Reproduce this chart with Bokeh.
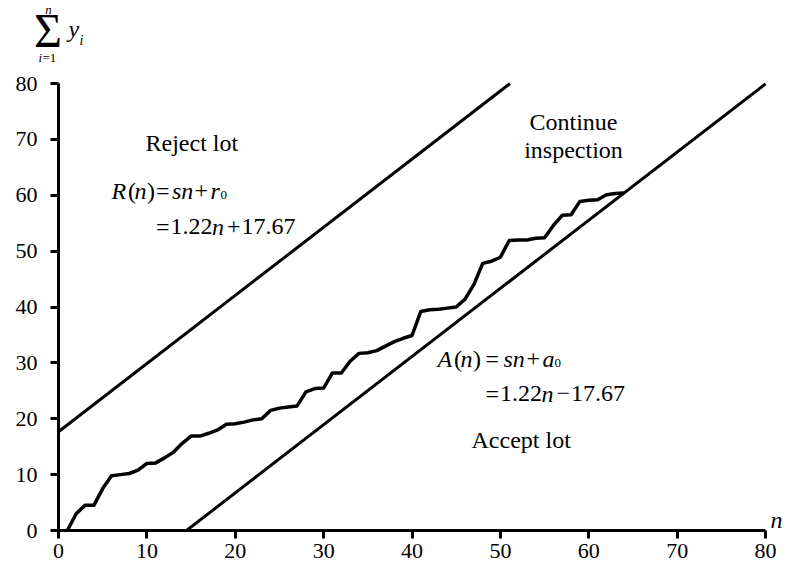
from bokeh.plotting import figure
from bokeh.models import Label, FixedTicker, Range1d
from bokeh.embed import file_html
from bokeh.resources import INLINE

# ---- data ----
n_values = list(range(1, 65))
cum_defects = [0, 3, 4.5, 4.5, 7.5, 9.8, 10, 10.2, 10.8, 12, 12.1, 13, 14, 15.6, 16.9,
               16.9, 17.4, 18, 19, 19.1, 19.4, 19.8, 20, 21.5, 21.9, 22.1, 22.3, 24.8,
               25.4, 25.5, 28.2, 28.2, 30.3, 31.7, 31.8, 32.2, 33, 33.8, 34.4, 34.9,
               39.2, 39.5, 39.6, 39.8, 40, 41.4, 44, 47.8, 48.2, 48.9, 51.9, 52, 52,
               52.3, 52.4, 54.6, 56.4, 56.5, 58.9, 59.1, 59.2, 60.1, 60.3, 60.4]
slope_s = 1.22
r0 = 17.67
a0 = -17.67
axis_min, axis_max = 0, 80
x_ticks = [0, 10, 20, 30, 40, 50, 60, 70, 80]
y_ticks = [0, 10, 20, 30, 40, 50, 60, 70, 80]

FONT = "Liberation Serif"

# page-pixel geometry of the plotting area (0..80 on both axes)
W, H = 789, 569
X0, XW = 58.0, 707.0 / 80.0
Y0, YH = 530.0, 447.0 / 80.0

p = figure(width=W, height=H,
           x_range=Range1d(-X0 / XW, (W - X0) / XW),
           y_range=Range1d((Y0 - H) / YH, Y0 / YH),
           output_backend="svg", toolbar_location=None, min_border=0)
p.outline_line_color = None
p.grid.visible = False
p.background_fill_color = "white"

for ax in (p.xaxis[0], p.yaxis[0]):
    ax.fixed_location = 0
    ax.bounds = (axis_min, axis_max)
    ax.axis_line_width = 3
    ax.axis_line_color = "black"
    ax.major_tick_line_width = 3
    ax.major_tick_line_color = "black"
    ax.major_tick_out = 8
    ax.major_tick_in = 0
    ax.minor_tick_out = 0
    ax.minor_tick_in = 0
    ax.major_label_text_font = FONT
    ax.major_label_text_font_size = "22px"
    ax.major_label_text_color = "black"
p.xaxis.ticker = FixedTicker(ticks=x_ticks)
p.yaxis.ticker = FixedTicker(ticks=y_ticks)
p.xaxis.major_label_standoff = 5
p.yaxis.major_label_standoff = 13

# boundary lines R(n) = s n + r0 and A(n) = s n + a0, within the 0..80 box
r_x = [axis_min, (axis_max - r0) / slope_s]
a_x = [-a0 / slope_s, axis_max]
p.line(r_x, [slope_s * v + r0 for v in r_x], line_color="black", line_width=3)
p.line(a_x, [slope_s * v + a0 for v in a_x], line_color="black", line_width=3)

# cumulative line
p.line(n_values, cum_defects, line_color="black", line_width=3.5, line_join="round")


def lab(text, px, py, size=24, italic=False, align="left"):
    p.add_layout(Label(x=(px - X0) / XW, y=(Y0 - py) / YH, text=text,
                       text_font=FONT, text_font_size=f"{size}px",
                       text_font_style="italic" if italic else "normal",
                       text_align=align, text_baseline="alphabetic",
                       text_color="black"))


lab("Reject lot", 145, 142)
# R(n) = sn + r0
b1, b2 = 190, 226
lab("R", 111, b1, italic=True)
lab("(", 127.5, b1)
lab("n", 134, b1, italic=True)
lab(")", 146.5, b1)
lab("=", 155.5, b1)
lab("sn", 171.5, b1, italic=True)
lab("+", 194, b1)
lab("r", 210, b1, italic=True)
lab("0", 220, b1 + 4, size=13)
lab("=", 155.5, b2)
lab("1.22", 170, b2)
lab("n", 211.5, b2, italic=True)
lab("+", 226.5, b2)
lab("17.67", 241, b2)

lab("Continue", 573, 121, align="center")
lab("inspection", 573, 149, align="center")

# A(n) = sn + a0
c1, c2 = 358, 393
lab("A", 437, c1, italic=True)
lab("(", 453.5, c1)
lab("n", 460, c1, italic=True)
lab(")", 472.5, c1)
lab("=", 485, c1)
lab("sn", 503, c1, italic=True)
lab("+", 526, c1)
lab("a", 542, c1, italic=True)
lab("0", 554, c1 + 4, size=13)
lab("=", 485, c2)
lab("1.22", 499.5, c2)
lab("n", 541, c2, italic=True)
lab("\u2212", 556, c2)
lab("17.67", 570.5, c2)

lab("Accept lot", 471, 439)

# axis titles
lab("\u03a3", 47.5, 30, size=48, align="center")
lab("n", 48, 8.5, size=13, italic=True, align="center")
lab("i", 38, 57, size=13, italic=True)
lab("=1", 42, 57, size=13)
lab("y", 68, 28.5, italic=True)
lab("i", 79, 40, size=14, italic=True)
lab("n", 770, 519, italic=True)

open("out.html", "w").write(file_html(p, INLINE))
